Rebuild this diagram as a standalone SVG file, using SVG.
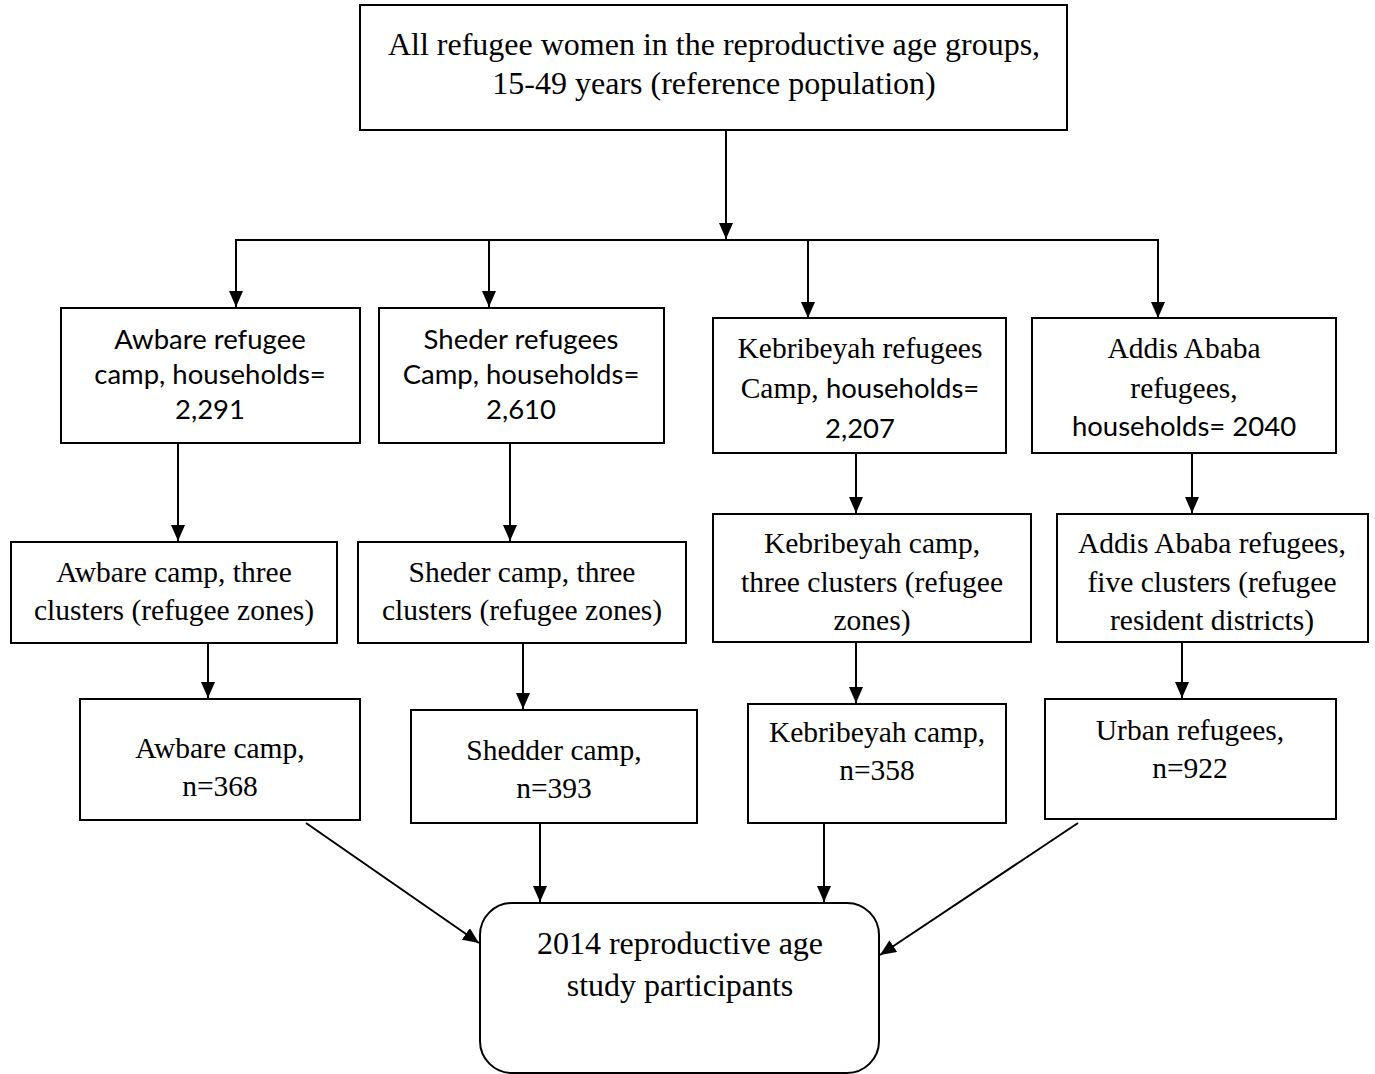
<svg xmlns="http://www.w3.org/2000/svg" width="1375" height="1074" viewBox="0 0 1375 1074">
<style>
.box{fill:#fff;stroke:#000;stroke-width:2}
.s{font-family:"Liberation Serif","Times New Roman",serif;font-size:29.5px;fill:#000;text-anchor:middle}
.big{font-size:32px}
.c{font-family:Lato,"Liberation Sans",sans-serif;font-size:27.5px}
.cn{font-family:Lato,"Liberation Sans",sans-serif;font-size:27.5px;fill:#000;text-anchor:middle}
.ln{stroke:#000;stroke-width:2;fill:none}
</style>
<defs>
<marker id="ah" markerUnits="userSpaceOnUse" markerWidth="16" markerHeight="14" viewBox="0 0 16 14" refX="16" refY="7" orient="auto">
<path d="M0,0 L16,7 L0,14 Z" fill="#000"/>
</marker>
</defs>
<rect width="1375" height="1074" fill="#fff"/>
<g id="connectors">
<line class="ln" x1="726" y1="130" x2="726" y2="239" marker-end="url(#ah)"/>
<polyline class="ln" points="236,307 236,240 1158,240 1158,318" marker-end="url(#ah)"/>
<line class="ln" x1="489" y1="240" x2="489" y2="307" marker-end="url(#ah)"/>
<line class="ln" x1="808" y1="240" x2="808" y2="318" marker-end="url(#ah)"/>
<line class="ln" x1="236" y1="240" x2="236" y2="307" marker-end="url(#ah)"/>
<line class="ln" x1="178" y1="443" x2="178" y2="541" marker-end="url(#ah)"/>
<line class="ln" x1="510" y1="443" x2="510" y2="541" marker-end="url(#ah)"/>
<line class="ln" x1="856" y1="453" x2="856" y2="513" marker-end="url(#ah)"/>
<line class="ln" x1="1192" y1="453" x2="1192" y2="513" marker-end="url(#ah)"/>
<line class="ln" x1="208" y1="643" x2="208" y2="698" marker-end="url(#ah)"/>
<line class="ln" x1="523" y1="643" x2="523" y2="709" marker-end="url(#ah)"/>
<line class="ln" x1="856" y1="642" x2="856" y2="703" marker-end="url(#ah)"/>
<line class="ln" x1="1182" y1="642" x2="1182" y2="698" marker-end="url(#ah)"/>
<line class="ln" x1="306" y1="823" x2="479" y2="943" marker-end="url(#ah)"/>
<line class="ln" x1="540" y1="823" x2="540" y2="902" marker-end="url(#ah)"/>
<line class="ln" x1="824" y1="823" x2="824" y2="902" marker-end="url(#ah)"/>
<line class="ln" x1="1078" y1="823" x2="880" y2="955" marker-end="url(#ah)"/>
</g>
<g id="top">
<rect class="box" x="360" y="5" width="707" height="125"/>
<text class="s big" x="714" y="55">All refugee women in the reproductive age groups,</text>
<text class="s big" x="714" y="94">15-49 years (reference population)</text>
</g>
<g id="awbare1">
<rect class="box" x="61" y="308" width="299" height="135"/>
<text class="cn" x="210" y="349">Awbare refugee</text>
<text class="cn" x="210" y="384">camp, households=</text>
<text class="cn" x="210" y="419">2,291</text>
</g>
<g id="sheder1">
<rect class="box" x="379" y="308" width="285" height="135"/>
<text class="cn" x="521" y="349">Sheder refugees</text>
<text class="cn" x="521" y="384">Camp, households=</text>
<text class="cn" x="521" y="419">2,610</text>
</g>
<g id="kebri1">
<rect class="box" x="713" y="318" width="293" height="135"/>
<text class="s" x="860" y="358">Kebribeyah refugees</text>
<text class="s" x="860" y="398">Camp, <tspan class="c">households=</tspan></text>
<text class="cn" x="860" y="438">2,207</text>
</g>
<g id="addis1">
<rect class="box" x="1032" y="318" width="304" height="135"/>
<text class="s" x="1184" y="358">Addis Ababa</text>
<text class="s" x="1184" y="398">refugees,</text>
<text class="cn" x="1184" y="436">households= 2040</text>
</g>
<g id="awbare2">
<rect class="box" x="11" y="542" width="326" height="101"/>
<text class="s" x="174" y="582">Awbare camp, three</text>
<text class="s" x="174" y="620">clusters (refugee zones)</text>
</g>
<g id="sheder2">
<rect class="box" x="358" y="542" width="328" height="101"/>
<text class="s" x="522" y="582">Sheder camp, three</text>
<text class="s" x="522" y="620">clusters (refugee zones)</text>
</g>
<g id="kebri2">
<rect class="box" x="713" y="514" width="318" height="128"/>
<text class="s" x="872" y="553">Kebribeyah camp,</text>
<text class="s" x="872" y="592">three clusters (refugee</text>
<text class="s" x="872" y="630">zones)</text>
</g>
<g id="addis2">
<rect class="box" x="1057" y="514" width="311" height="128"/>
<text class="s" x="1212" y="553">Addis Ababa refugees,</text>
<text class="s" x="1212" y="592">five clusters (refugee</text>
<text class="s" x="1212" y="630">resident districts)</text>
</g>
<g id="awbare3">
<rect class="box" x="80" y="699" width="280" height="121"/>
<text class="s" x="220" y="758">Awbare camp,</text>
<text class="s" x="220" y="796">n=368</text>
</g>
<g id="shedder3">
<rect class="box" x="411" y="710" width="286" height="113"/>
<text class="s" x="554" y="760">Shedder camp,</text>
<text class="s" x="554" y="798">n=393</text>
</g>
<g id="kebri3">
<rect class="box" x="748" y="704" width="258" height="119"/>
<text class="s" x="877" y="742">Kebribeyah camp,</text>
<text class="s" x="877" y="780">n=358</text>
</g>
<g id="urban3">
<rect class="box" x="1045" y="699" width="291" height="120"/>
<text class="s" x="1190" y="740">Urban refugees,</text>
<text class="s" x="1190" y="778">n=922</text>
</g>
<g id="final">
<rect class="box" x="480" y="903" width="399" height="170" rx="32" ry="32"/>
<text class="s big" x="680" y="954">2014 reproductive age</text>
<text class="s big" x="680" y="996">study participants</text>
</g>
</svg>
